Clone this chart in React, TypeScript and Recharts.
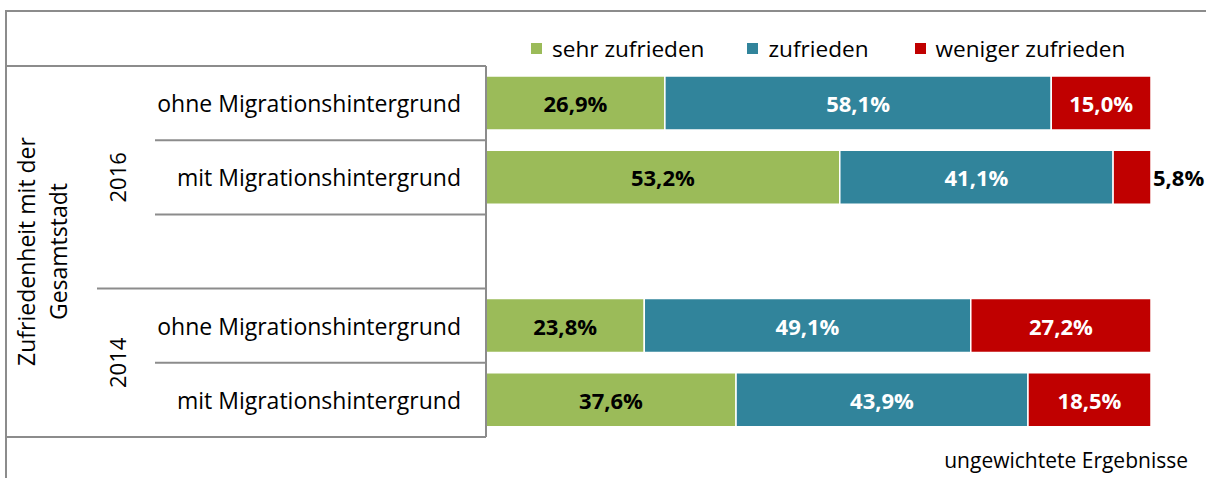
import { BarChart, Bar, XAxis, YAxis, Legend, LabelList } from 'recharts';

const categories = [
  'ohne Migrationshintergrund',
  'mit Migrationshintergrund',
  '',
  'ohne Migrationshintergrund',
  'mit Migrationshintergrund'
];
const years = ['2016', '2016', '2016', '2014', '2014'];
const seriesNames = ['sehr zufrieden', 'zufrieden', 'weniger zufrieden'];
const sehrZufrieden = [26.9, 53.2, null, 23.8, 37.6];
const zufrieden = [58.1, 41.1, null, 49.1, 43.9];
const wenigerZufrieden = [15.0, 5.8, null, 27.2, 18.5];

const FONT = '"Open Sans", sans-serif';
const LINE = '#8c8c8c';
const W = 1206;
const H = 478;
const MARGIN = { top: 66, right: 55, bottom: 41, left: 6 };
const BAND = (H - MARGIN.top - MARGIN.bottom) / categories.length;

const data = categories.map((name, i) => ({
  key: `${years[i]}-${i}`,
  name,
  year: years[i],
  sehr: sehrZufrieden[i],
  zuf: zufrieden[i],
  wenig: wenigerZufrieden[i]
}));

const fmt = (v: number) => `${v.toFixed(1).replace('.', ',')}%`;

const CategoryTick = (props: any) => {
  const { x, y, index } = props;
  const row = data[index];
  const top = y - BAND / 2;
  const bottom = y + BAND / 2;
  const lineStart = index === 4 ? x - 480 : index === 2 ? x - 389 : x - 331;
  return (
    <g>
      {index === 0 && <line x1={x - 480} x2={x} y1={top} y2={top} stroke={LINE} strokeWidth={2} />}
      <line x1={lineStart} x2={x} y1={bottom} y2={bottom} stroke={LINE} strokeWidth={2} />
      <text x={x - 25} y={y} textAnchor="end" dominantBaseline="central" fontFamily={FONT} fontSize={23} fill="#000">
        {row.name}
      </text>
      {index === 1 && (
        <text transform={`translate(${x - 369},${y}) rotate(-90)`} textAnchor="middle" dominantBaseline="central" fontFamily={FONT} fontSize={22} fill="#000">
          {row.year}
        </text>
      )}
      {index === 3 && (
        <text transform={`translate(${x - 369},${bottom}) rotate(-90)`} textAnchor="middle" dominantBaseline="central" fontFamily={FONT} fontSize={22} fill="#000">
          {row.year}
        </text>
      )}
      {index === 2 && (
        <text transform={`translate(${x - 451},${y}) rotate(-90)`} textAnchor="middle" fontFamily={FONT} fontSize={23} fill="#000">
          <tspan x={0} dy={0}>Zufriedenheit mit der</tspan>
          <tspan x={0} dy={32}>Gesamtstadt</tspan>
        </text>
      )}
    </g>
  );
};

const makeLabel = (color: string) => (props: any) => {
  const { x, y, width, height, value } = props;
  if (value == null) return null;
  const outside = width < 45;
  return (
    <text
      x={outside ? x + width + 2 : x + width / 2}
      y={y + height / 2}
      textAnchor={outside ? 'start' : 'middle'}
      dominantBaseline="central"
      fontFamily={FONT}
      fontWeight="bold"
      fontSize={22}
      fill={outside ? '#000' : color}
    >
      {fmt(value)}
    </text>
  );
};

const LegendContent = (props: any) => {
  const items = [...(props.payload || [])].sort(
    (a: any, b: any) => seriesNames.indexOf(a.value) - seriesNames.indexOf(b.value)
  );
  return (
    <div style={{ display: 'flex', fontFamily: FONT, fontSize: 22.6, color: '#000', whiteSpace: 'nowrap' }}>
      {items.map((p: any, i: number) => (
        <div key={p.value} style={{ display: 'flex', alignItems: 'center', marginRight: i === 0 ? 43 : 46 }}>
          <span style={{ display: 'inline-block', width: 11, height: 11, background: p.color, marginRight: 10 }} />
          <span>{p.value}</span>
        </div>
      ))}
    </div>
  );
};

export default function App() {
  return (
    <div style={{ position: 'absolute', left: 0, top: 0, width: W, height: H, background: '#fff', overflow: 'hidden' }}>
      <div style={{ position: 'absolute', left: 5, top: 10, right: 0, bottom: 0, borderTop: `2px solid ${LINE}`, borderLeft: `2px solid ${LINE}` }} />
      <div style={{ position: 'absolute', left: 0, top: 0 }}>
        <BarChart width={W} height={H} data={data} layout="vertical" margin={MARGIN} barCategoryGap={20}>
          <XAxis type="number" domain={[0, 100]} hide allowDataOverflow />
          <YAxis
            type="category"
            dataKey="key"
            width={480}
            axisLine={{ stroke: LINE, strokeWidth: 2 }}
            tickLine={false}
            tickSize={0}
            tickMargin={0}
            tick={CategoryTick}
            interval={0}
          />
          <Legend
            layout="horizontal"
            verticalAlign="middle"
            align="center"
            wrapperStyle={{ top: 33, left: 531, width: 'auto' }}
            content={LegendContent}
          />
          <Bar dataKey="sehr" name={seriesNames[0]} stackId="a" fill="#9BBB59" stroke="#fff" strokeWidth={1.5} barSize={54} isAnimationActive={false}>
            <LabelList dataKey="sehr" content={makeLabel('#000')} />
          </Bar>
          <Bar dataKey="zuf" name={seriesNames[1]} stackId="a" fill="#31849B" stroke="#fff" strokeWidth={1.5} barSize={54} isAnimationActive={false}>
            <LabelList dataKey="zuf" content={makeLabel('#fff')} />
          </Bar>
          <Bar dataKey="wenig" name={seriesNames[2]} stackId="a" fill="#C00000" stroke="#fff" strokeWidth={1.5} barSize={54} isAnimationActive={false}>
            <LabelList dataKey="wenig" content={makeLabel('#fff')} />
          </Bar>
        </BarChart>
      </div>
      <div style={{ position: 'absolute', right: 18, top: 446, fontFamily: FONT, fontSize: 21, color: '#000' }}>
        ungewichtete Ergebnisse
      </div>
    </div>
  );
}
